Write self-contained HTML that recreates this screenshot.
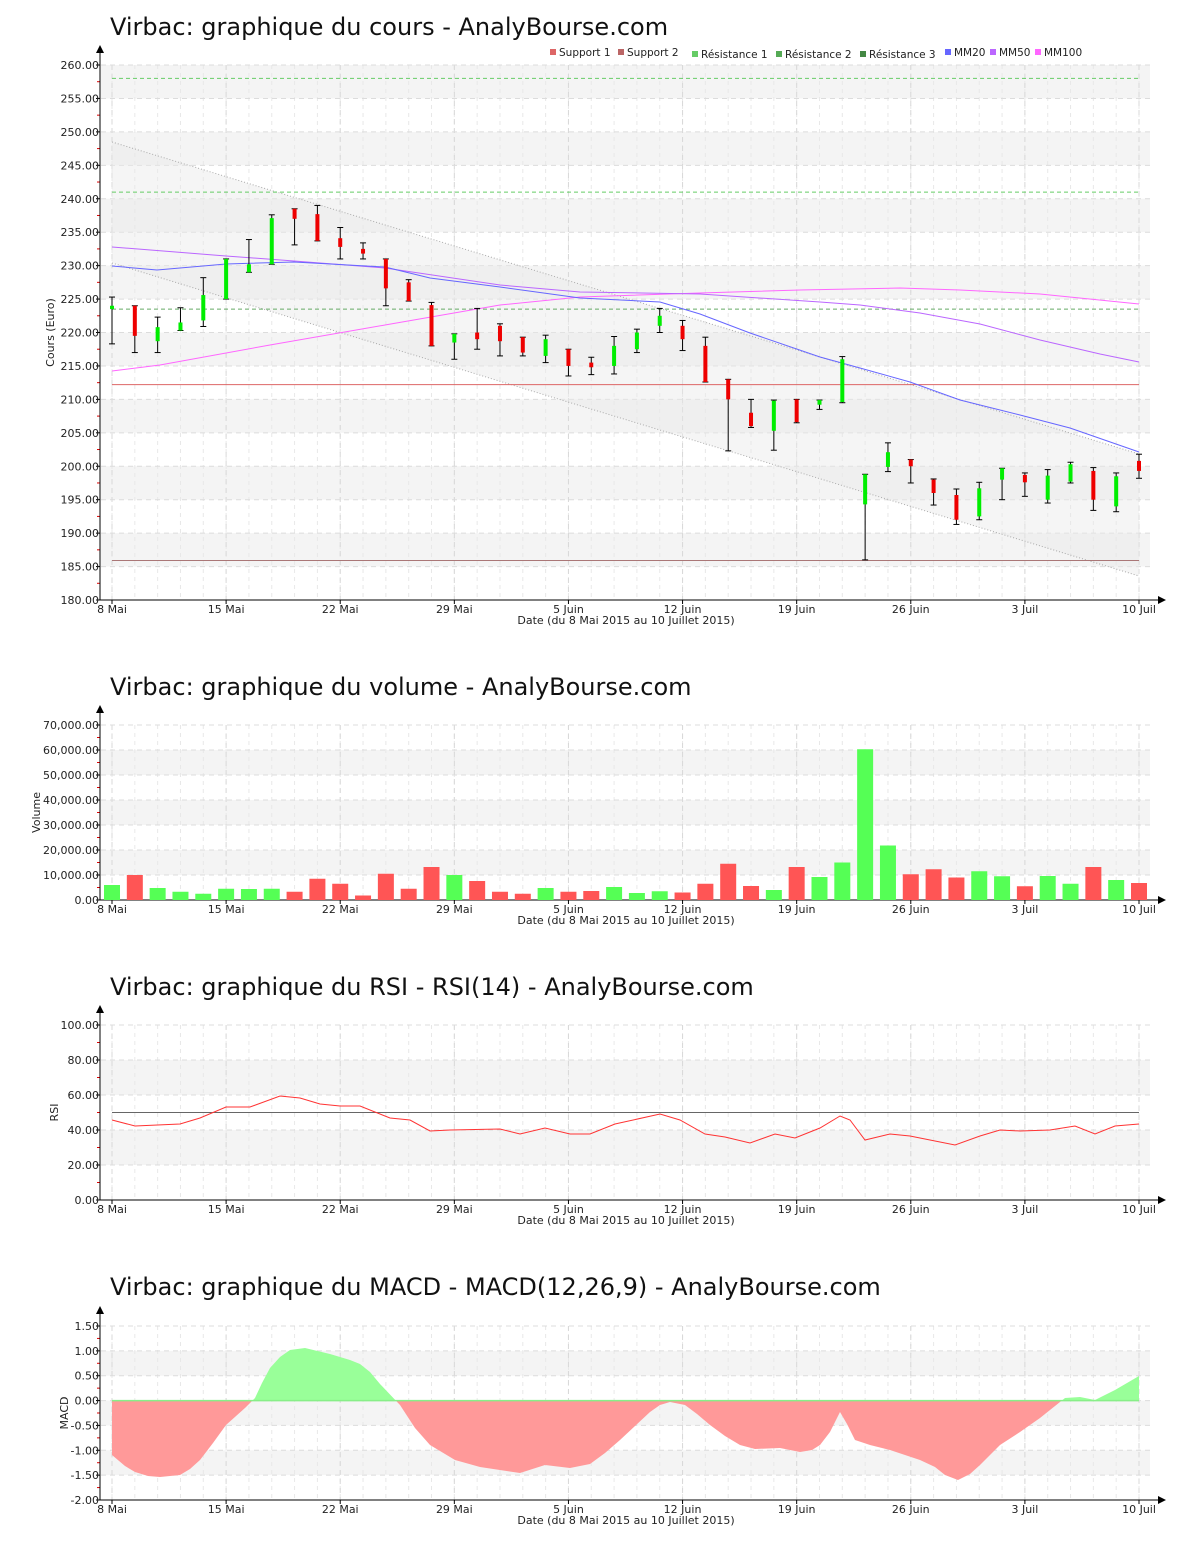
<!DOCTYPE html>
<html><head><meta charset="utf-8"><style>
body{margin:0;background:#fff;}
svg{display:block;font-family:"DejaVu Sans","Liberation Sans",sans-serif;}
</style></head><body>
<svg id="s" width="1200" height="1550" xmlns="http://www.w3.org/2000/svg"></svg>
<script>
const S=document.getElementById('s');let h='';
const X=i=>112+i*1027/45;
const dates=[[0,'8 Mai'],[5,'15 Mai'],[10,'22 Mai'],[15,'29 Mai'],[20,'5 Juin'],[25,'12 Juin'],[30,'19 Juin'],[35,'26 Juin'],[40,'3 Juil'],[45,'10 Juil']];
function frame(top,bot,vmin,vmax,step,fmt,ylabel,title,ty,grayFirst,yl){
  const Y=v=>bot-(v-vmin)/(vmax-vmin)*(bot-top);
  h+=`<text x="110" y="${ty}" font-size="24" fill="#111">${title}</text>`;
  let k=0;
  for(let v=vmax;v>vmin+1e-9;v-=step,k++){
    if((k%2==1)===grayFirst) h+=`<rect x="101" y="${Y(v)}" width="1049" height="${Y(v-step)-Y(v)}" fill="#f4f4f4"/>`;
  }
  for(let i=0;i<=45;i++){h+=`<line x1="${X(i)}" y1="${top}" x2="${X(i)}" y2="${bot}" stroke="#e8e8e8" stroke-dasharray="4,4"/>`;}
  for(const d of dates){h+=`<line x1="${X(d[0])}" y1="${top}" x2="${X(d[0])}" y2="${bot}" stroke="#d8d8d8" stroke-dasharray="5,4"/>`;}
  for(let v=vmin;v<=vmax+1e-9;v+=step){
    h+=`<line x1="101" y1="${Y(v)}" x2="1150" y2="${Y(v)}" stroke="#dcdcdc" stroke-dasharray="5,4"/>`;
    h+=`<line x1="96" y1="${Y(v)}" x2="100" y2="${Y(v)}" stroke="#000"/>`;
    h+=`<text x="99" y="${Y(v)+4}" font-size="11" text-anchor="end" fill="#222">${fmt(v)}</text>`;
    if(v+step/2<vmax) h+=`<line x1="97" y1="${Y(v+step/2)}" x2="100" y2="${Y(v+step/2)}" stroke="#d00"/>`;
  }
  h+=`<line x1="100" y1="${bot}" x2="100" y2="${top-14}" stroke="#000"/><path d="M96,${top-12} L100,${top-20} L104,${top-12}Z"/>`;
  h+=`<line x1="100" y1="${bot}" x2="1160" y2="${bot}" stroke="#000"/><path d="M1158,${bot-4} L1166,${bot} L1158,${bot+4}Z"/>`;
  for(const d of dates){h+=`<line x1="${X(d[0])}" y1="${bot}" x2="${X(d[0])}" y2="${bot+4}" stroke="#000"/><text x="${X(d[0])}" y="${bot+13}" font-size="11" text-anchor="middle" fill="#222">${d[1]}</text>`;}
  h+=`<text x="626" y="${bot+24}" font-size="11" text-anchor="middle" fill="#222">Date (du 8 Mai 2015 au 10 Juillet 2015)</text>`;
  h+=`<text transform="translate(${yl},${(top+bot)/2}) rotate(-90)" font-size="11" text-anchor="middle" fill="#222">${ylabel}</text>`;
  return Y;
}
const pl=a=>a.map(p=>p.join(',')).join(' ');
// PRICE
let Y=frame(65,600,180,260,5,v=>v.toFixed(2),'Cours (Euro)','Virbac: graphique du cours - AnalyBourse.com',35,false,54);
h+=`<polygon points="112,142 1139,454 1139,576 112,263" fill="#e8e8e8" opacity="0.45"/>`;
h+=`<line x1="112" y1="142" x2="1139" y2="454" stroke="#aaa" stroke-dasharray="1,2"/><line x1="112" y1="263" x2="1139" y2="576" stroke="#aaa" stroke-dasharray="1,2"/>`;
h+=`<line x1="112" y1="${Y(258)}" x2="1139" y2="${Y(258)}" stroke="#6c6" stroke-dasharray="4,3"/>`;
h+=`<line x1="112" y1="${Y(241)}" x2="1139" y2="${Y(241)}" stroke="#6c6" stroke-dasharray="4,3"/>`;
h+=`<line x1="112" y1="${Y(223.5)}" x2="1139" y2="${Y(223.5)}" stroke="#6a6" stroke-dasharray="4,3"/>`;
h+=`<line x1="112" y1="${Y(212.2)}" x2="1139" y2="${Y(212.2)}" stroke="#d66"/>`;
h+=`<line x1="112" y1="${Y(185.9)}" x2="1139" y2="${Y(185.9)}" stroke="#a77"/>`;
h+=`<polyline fill="none" stroke="#f6f" points="${pl([[112,371],[160,365],[270,345],[385,325],[500,305],[580,297],[700,293],[800,290],[900,288],[960,290],[1040,294],[1139,304]])}"/>`;
h+=`<polyline fill="none" stroke="#b6f" points="${pl([[112,247],[226,256],[294,261],[385,268],[500,285],[580,292],[700,294],[820,302],[860,305],[920,313],[980,324],[1040,340],[1100,354],[1139,362]])}"/>`;
h+=`<polyline fill="none" stroke="#66f" points="${pl([[112,266],[157,270],[226,264],[294,262],[385,267],[430,278],[500,287],[580,298],[660,302],[700,314],[750,333],[820,357],[860,368],[910,382],[960,400],[1020,415],[1070,428],[1139,452]])}"/>`;
const C=[[223.5,224,225.3,218.3],[224,219.5,224,217],[218.7,220.8,222.3,217],[220.3,221.5,223.7,220.3],[221.8,225.6,228.2,220.9],[225,231,231,225],[229,230.2,233.9,229],[230.2,237.1,237.6,230.2],[238.5,237,238.5,233.1],[237.7,233.7,239,233.7],[234.1,232.8,235.7,231],[232.5,231.8,233.4,231],[231,226.6,231,224],[227.5,224.7,227.9,224.7],[224.1,218,224.5,218],[218.5,219.8,219.8,216],[220,219,223.6,217.5],[221,218.7,221.3,216.5],[219.3,217,219.3,216.5],[216.5,219,219.6,215.5],[217.5,215,217.5,213.5],[215.5,214.8,216.3,213.7],[215,218,219.4,213.8],[217.5,220,220.5,217],[221,222.5,223.6,220],[221,219,221.8,217.3],[218,212.6,219.3,212.6],[213,210,213,202.3],[208,206,210,205.8],[205.3,209.8,209.9,202.4],[210,206.6,210,206.5],[209.2,209.9,209.9,208.5],[209.6,216,216.4,209.5],[194.3,198.8,198.8,186],[199.9,202.1,203.5,199.2],[201,200,201,197.5],[198,196,198.1,194.2],[195.7,192,196.6,191.3],[192.5,196.7,197.6,192],[198,199.7,199.7,195],[198.7,197.6,199,195.5],[195,198.6,199.5,194.5],[197.7,200.3,200.6,197.5],[199.3,195,199.8,193.4],[194,198.5,199,193.2],[200.8,199.3,201.8,198.2]];
C.forEach((c,i)=>{const x=X(i);const[o,cl,hi,lo]=c;
h+=`<line x1="${x}" y1="${Y(hi)}" x2="${x}" y2="${Y(lo)}" stroke="#000"/><line x1="${x-3}" y1="${Y(hi)}" x2="${x+3}" y2="${Y(hi)}" stroke="#000"/><line x1="${x-3}" y1="${Y(lo)}" x2="${x+3}" y2="${Y(lo)}" stroke="#000"/>`;
const t=Y(Math.max(o,cl)),b=Y(Math.min(o,cl));h+=`<rect x="${x-2}" y="${t}" width="4" height="${Math.max(b-t,2)}" fill="${cl>=o?'#0e0':'#e00'}"/>`;});
const leg=[['#d66','Support 1',550,0],['#b66','Support 2',618,0],['#6c6','Résistance 1',692,2],['#5a5','Résistance 2',776,2],['#484','Résistance 3',860,2],['#66f','MM20',945,0],['#b6f','MM50',990,0],['#f6f','MM100',1035,0]];
leg.forEach(l=>{h+=`<rect x="${l[2]}" y="${49+l[3]}" width="6" height="6" fill="${l[0]}"/><text x="${l[2]+9}" y="${56+l[3]}" font-size="10.5" fill="#222">${l[1]}</text>`;});
// VOLUME
Y=frame(725,900,0,70000,10000,v=>v.toLocaleString('en-US',{minimumFractionDigits:2}),'Volume','Virbac: graphique du volume - AnalyBourse.com',695,true,40);
const V=[[6000,1],[10000,0],[4800,1],[3300,1],[2500,1],[4500,1],[4400,1],[4500,1],[3300,0],[8500,0],[6500,0],[1800,0],[10500,0],[4500,0],[13200,0],[10000,1],[7600,0],[3300,0],[2500,0],[4800,1],[3300,0],[3600,0],[5200,1],[2800,1],[3500,1],[3000,0],[6500,0],[14500,0],[5600,0],[4000,1],[13200,0],[9200,1],[15000,1],[60300,1],[21800,1],[10300,0],[12300,0],[9000,0],[11500,1],[9500,1],[5500,0],[9600,1],[6500,1],[13200,0],[8000,1],[6800,0]];
V.forEach((v,i)=>{h+=`<rect x="${X(i)-8}" y="${Y(v[0])}" width="16" height="${900-Y(v[0])}" fill="${v[1]?'#5f5':'#f55'}"/>`;});
// RSI
Y=frame(1025,1200,0,100,20,v=>v.toFixed(2),'RSI','Virbac: graphique du RSI - RSI(14) - AnalyBourse.com',995,true,58);
h+=`<line x1="112" y1="${Y(50)}" x2="1139" y2="${Y(50)}" stroke="#666"/>`;
h+=`<polyline fill="none" stroke="#f33" points="${pl([[112,1120],[135,1126],[180,1124],[200,1118],[226,1107],[250,1107],[280,1096],[300,1098],[320,1104],[340,1106],[360,1106],[390,1118],[410,1120],[430,1131],[450,1130],[500,1129],[520,1134],[545,1128],[570,1134],[590,1134],[615,1124],[660,1114],[680,1120],[705,1134],[725,1137],[750,1143],[775,1134],[795,1138],[820,1128],[840,1116],[850,1120],[865,1140],[890,1134],[910,1136],[955,1145],[980,1136],[1000,1130],[1020,1131],[1050,1130],[1075,1126],[1095,1134],[1115,1126],[1139,1124]])}"/>`;
// MACD
Y=frame(1326,1500,-2,1.5,0.5,v=>v.toFixed(2),'MACD','Virbac: graphique du MACD - MACD(12,26,9) - AnalyBourse.com',1295,true,68);
const M=[[112,1455],[125,1466],[135,1472],[148,1476],[160,1477],[180,1475],[190,1469],[200,1460],[213,1443],[226,1425],[245,1408],[255,1398],[262,1383],[270,1368],[280,1357],[290,1350],[305,1348],[330,1354],[350,1360],[360,1364],[370,1372],[380,1384],[400,1405],[415,1428],[430,1445],[455,1460],[480,1467],[520,1473],[545,1465],[570,1468],[590,1464],[605,1453],[620,1440],[635,1426],[650,1412],[660,1405],[670,1402],[685,1405],[697,1414],[710,1425],[725,1436],[740,1445],[755,1449],[780,1448],[800,1452],[812,1450],[820,1445],[830,1432],[840,1412],[847,1424],[855,1440],[870,1445],[890,1450],[920,1460],[935,1467],[945,1475],[958,1480],[970,1474],[980,1465],[990,1455],[1000,1445],[1020,1432],[1040,1418],[1055,1406],[1065,1398],[1080,1397],[1095,1400],[1115,1390],[1139,1376]];
const z=Y(0);const poly=`112,${z} ${pl(M)} 1139,${z}`;
h+=`<defs><clipPath id="ca"><rect x="100" y="1300" width="1060" height="${z-1300}"/></clipPath><clipPath id="cb"><rect x="100" y="${z}" width="1060" height="200"/></clipPath></defs>`;
h+=`<polygon points="${poly}" fill="#9f9" clip-path="url(#ca)"/><polygon points="${poly}" fill="#f99" clip-path="url(#cb)"/>`;
h+=`<line x1="112" y1="${z}" x2="1139" y2="${z}" stroke="#8e8" stroke-width="1.5"/>`;
S.innerHTML=h;
</script>
</body></html>
